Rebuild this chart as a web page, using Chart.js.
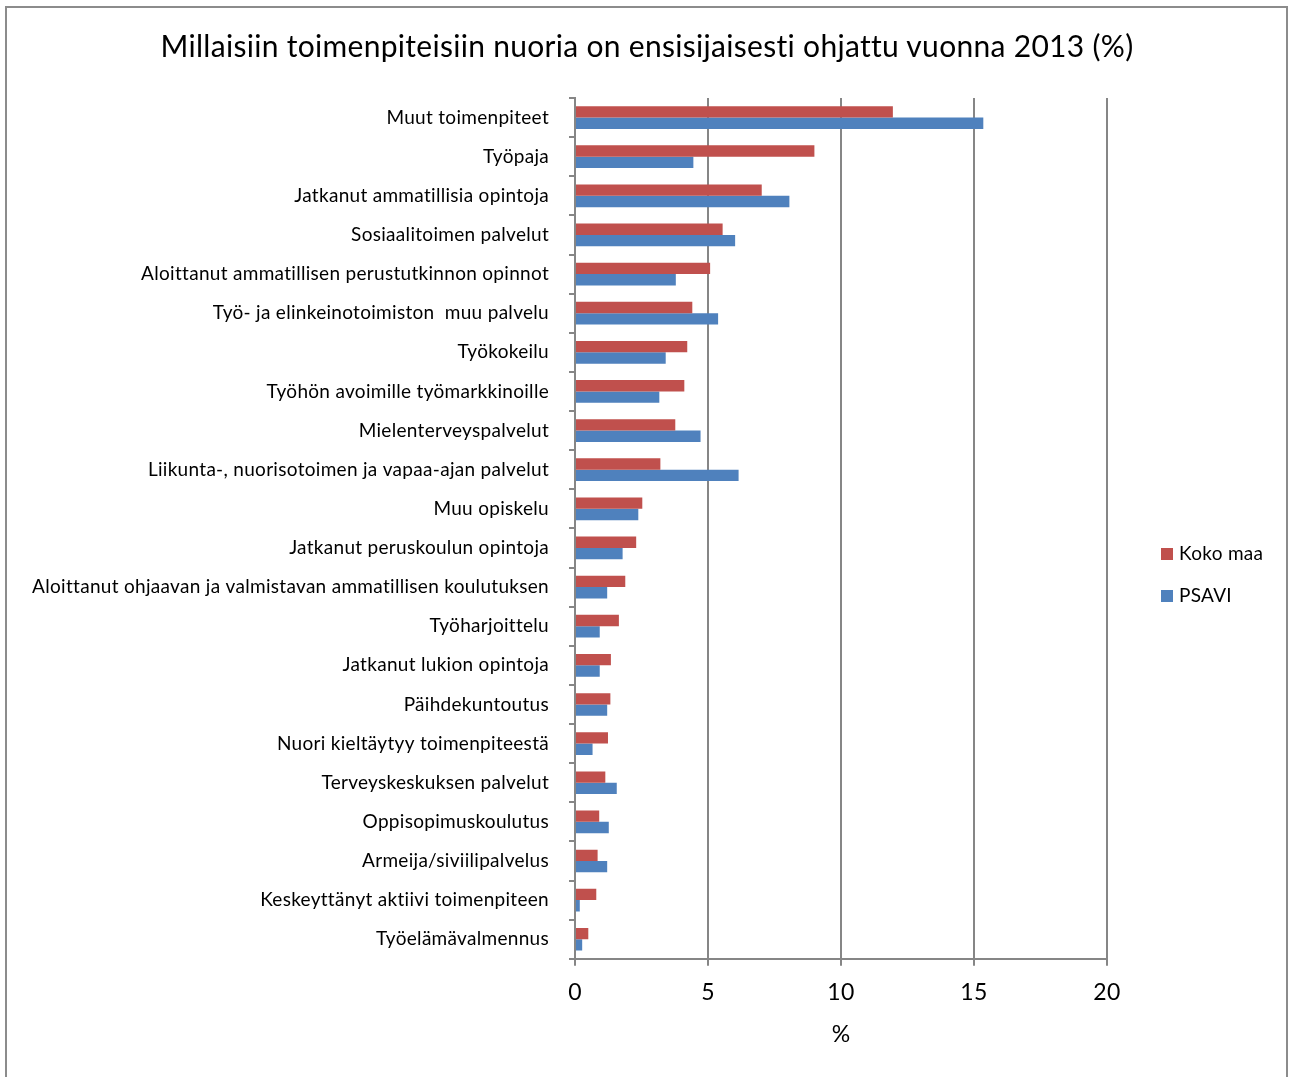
<!DOCTYPE html>
<html>
<head>
<meta charset="utf-8">
<script src="https://cdn.jsdelivr.net/npm/chart.js@4"></script>
<style>
  html, body { margin: 0; padding: 0; background: #fff; }
  #wrap { position: absolute; left: 0; top: 0; width: 1292px; height: 1077px; overflow: hidden; }
  #frame { position: absolute; left: 5px; top: 6px; width: 1283px; height: 1090px; border: 2px solid #8c8c8c; box-sizing: border-box; }
  canvas { position: absolute; left: 0; top: 0; }
  #title { position: absolute; left: 0; top: 26px; width: 1294px; text-align: center; font-family: Lato, 'Open Sans', sans-serif; font-size: 30px; line-height: 38px; color: #000; letter-spacing: 0.3px; font-variant-ligatures: none; }
  #legend { position: absolute; left: 1161px; top: 541px; font-family: Lato, 'Open Sans', sans-serif; font-size: 19px; color: #000; letter-spacing: 0.3px; }
  .item { height: 42px; display: flex; align-items: flex-start; }
  .sw { width: 12px; height: 12px; margin-top: 7px; margin-right: 6px; }
</style>
</head>
<body>
<div id="wrap">
  <div id="frame"></div>
  <canvas id="c" width="1292" height="1077"></canvas>
  <div id="title">Millaisiin toimenpiteisiin nuoria on ensisijaisesti ohjattu vuonna 2013 (%)</div>
  <div id="legend"></div>
</div>
<script>
const categories = [
  "Muut toimenpiteet",
  "Työpaja",
  "Jatkanut ammatillisia opintoja",
  "Sosiaalitoimen palvelut",
  "Aloittanut ammatillisen perustutkinnon opinnot",
  "Työ- ja elinkeinotoimiston  muu palvelu",
  "Työkokeilu",
  "Työhön avoimille työmarkkinoille",
  "Mielenterveyspalvelut",
  "Liikunta-, nuorisotoimen ja vapaa-ajan palvelut",
  "Muu opiskelu",
  "Jatkanut peruskoulun opintoja",
  "Aloittanut ohjaavan ja valmistavan ammatillisen koulutuksen",
  "Työharjoittelu",
  "Jatkanut lukion opintoja",
  "Päihdekuntoutus",
  "Nuori kieltäytyy toimenpiteestä",
  "Terveyskeskuksen palvelut",
  "Oppisopimuskoulutus",
  "Armeija/siviilipalvelus",
  "Keskeyttänyt aktiivi toimenpiteen",
  "Työelämävalmennus"
];
const kokoMaa = [11.95, 9.0, 7.02, 5.55, 5.08, 4.41, 4.22, 4.11, 3.77, 3.21, 2.53, 2.30, 1.89, 1.65, 1.35, 1.33, 1.24, 1.14, 0.91, 0.85, 0.80, 0.50];
const psavi   = [15.35, 4.45, 8.06, 6.02, 3.79, 5.38, 3.41, 3.17, 4.72, 6.15, 2.38, 1.79, 1.21, 0.93, 0.93, 1.21, 0.66, 1.57, 1.27, 1.21, 0.18, 0.27];
const xTicks = [0, 5, 10, 15, 20];
const seriesNames = ["Koko maa", "PSAVI"];
const seriesColors = ["#C0504D", "#4F81BD"];

const FONT = "Lato, 'Open Sans', sans-serif";
const GRID = "#868686";

const spacing = {
  id: 'spacing',
  beforeInit(chart) { chart.ctx.letterSpacing = '0.3px'; },
  beforeDraw(chart) { chart.ctx.letterSpacing = '0.3px'; }
};

const chart = new Chart(document.getElementById('c'), {
  type: 'bar',
  data: {
    labels: categories,
    datasets: [
      { label: seriesNames[0], data: kokoMaa, backgroundColor: seriesColors[0], borderWidth: 0, categoryPercentage: 0.58, barPercentage: 1.0 },
      { label: seriesNames[1], data: psavi, backgroundColor: seriesColors[1], borderWidth: 0, categoryPercentage: 0.58, barPercentage: 1.0 }
    ]
  },
  plugins: [spacing],
  options: {
    indexAxis: 'y',
    responsive: false,
    animation: false,
    layout: { padding: { top: 98, right: 185, bottom: 25, left: 10 } },
    plugins: {
      title: { display: false },
      legend: { display: false },
      tooltip: { enabled: false }
    },
    scales: {
      x: {
        min: 0, max: 20,
        afterBuildTicks: (s) => { s.ticks = xTicks.map(v => ({ value: v })); },
        grid: { color: GRID, lineWidth: 2, drawTicks: true, tickLength: 7, tickColor: GRID },
        border: { display: true, color: GRID, width: 2 },
        ticks: { color: '#000', font: { family: FONT, size: 23 }, padding: 13 },
        title: { display: true, text: '%', color: '#000', font: { family: FONT, size: 23 }, padding: { top: 1 } }
      },
      y: {
        afterFit: (s) => { s.width = 565; },
        grid: { display: true, drawOnChartArea: false, drawTicks: true, tickLength: 6, tickColor: GRID, lineWidth: 2 },
        border: { display: true, color: GRID, width: 2 },
        ticks: { color: '#000', font: { family: FONT, size: 19 }, padding: 20, autoSkip: false }
      }
    }
  }
});

const lg = document.getElementById('legend');
seriesNames.forEach((n, i) => {
  const d = document.createElement('div'); d.className = 'item';
  const s = document.createElement('div'); s.className = 'sw'; s.style.background = seriesColors[i];
  const t = document.createElement('span'); t.textContent = n;
  d.appendChild(s); d.appendChild(t); lg.appendChild(d);
});
</script>
</body>
</html>
